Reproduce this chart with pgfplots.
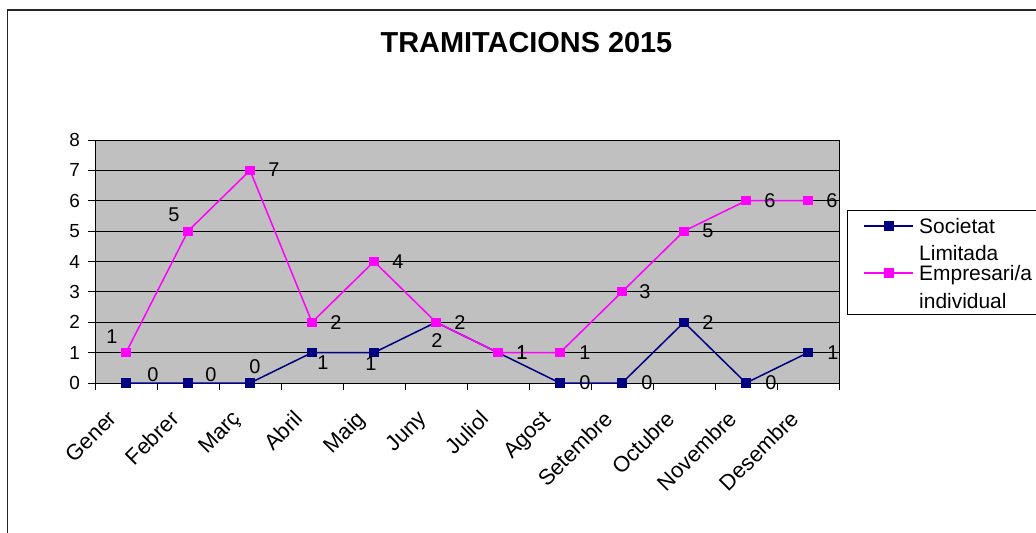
\documentclass[border=0pt]{standalone}
\usepackage{fontspec}
\setmainfont{Liberation Sans}
\usepackage{pgfplots}
\pgfplotsset{compat=1.18}
\usepackage{pgfplotstable}

\definecolor{navyline}{RGB}{0,0,128}
\definecolor{magline}{RGB}{255,0,255}
\definecolor{plotgray}{RGB}{192,192,192}

% x = category centre (0.5 ... 11.5), y = value, dx/dy = label offset in bp
\pgfplotstableread{
x    y  dx  dy
0.5  0  27  8
1.5  0  23  8
2.5  0  5   16.5
3.5  1  11  -10
4.5  1  -3  -11
5.5  2  1   -18
6.5  1  24  0
7.5  0  25  0
8.5  0  25  0
9.5  2  24  0
10.5 0  25  0
11.5 1  25  0
}\societat

\pgfplotstableread{
x    y  dx  dy
0.5  1  -14 16
1.5  5  -14 16.5
2.5  7  24  1
3.5  2  24  0
4.5  4  24  0
5.5  2  24  0
6.5  1  24  0
7.5  1  25  0
8.5  3  23  0
9.5  5  24  0
10.5 6  24  0
11.5 6  24  0
}\empresari

\begin{document}
\begin{tikzpicture}
\path[use as bounding box] (0bp,0bp) rectangle (1036bp,533bp);
\clip (0bp,0bp) rectangle (1036bp,533bp);
\draw[line width=1.5bp, black!85] (7.5bp,-20bp) rectangle (1060bp,523bp);
\begin{axis}[
  at={(95bp,150bp)}, anchor=south west,
  scale only axis, width=744bp, height=243bp,
  clip=false,
  xmin=0, xmax=12, ymin=0, ymax=8,
  axis background/.style={fill=plotgray},
  axis line style={black, line width=0.9bp},
  /pgf/number format/assume math mode=true,
  tick align=outside,
  major tick length=7bp,
  tick style={black, line width=0.9bp},
  xtick={0,...,12}, xticklabels={},
  extra x ticks={0.5,1.5,...,11.5},
  extra x tick labels={Gener,Febrer,Març,Abril,Maig,Juny,Juliol,Agost,Setembre,Octubre,Novembre,Desembre},
  extra x tick style={major tick length=0pt,
    ticklabel style={xshift=-19bp, yshift=-26bp, rotate=45,
      anchor=north east, inner sep=0pt,
      font=\fontsize{22}{26}\selectfont}},
  xtick pos=bottom, ytick pos=left,
  ytick={0,...,8},
  ymajorgrids,
  grid style={black, line width=0.9bp},
  yticklabel style={inner sep=0pt, xshift=-8bp,
    font=\fontsize{19}{23}\selectfont},
  title={TRAMITACIONS 2015},
  title style={at={(0.58,1)}, anchor=base, yshift=82bp,
    font=\fontsize{29}{34}\selectfont\bfseries},
  nodes near coords,
  visualization depends on={\thisrow{dx} \as \ldx},
  visualization depends on={\thisrow{dy} \as \ldy},
  every node near coord/.append style={anchor=center, inner sep=0pt,
    xshift=\ldx bp, yshift=\ldy bp, text=black,
    font=\fontsize{20}{24}\selectfont},
  legend style={at={(1.0108,0.712)}, anchor=north west,
    draw=black, line width=0.8bp, fill=white,
    inner xsep=16bp, inner ysep=0bp,
    nodes={inner sep=0pt, text height=15bp, text depth=12bp},
    column sep=5bp, row sep=0pt,
    cells={anchor=base west},
    font=\fontsize{21}{27}\selectfont},
  legend image code/.code={
    \draw[mark repeat=2, mark phase=2, line width=1.8bp]
      plot coordinates {(0bp,7.5bp) (24.5bp,7.5bp) (49bp,7.5bp)};},
]
\addplot[navyline, line width=1.5bp, mark=square*, mark size=3.8bp,
  mark options={solid, fill=navyline}] table[x=x, y=y] {\societat};
\addlegendentry[text height=23bp, text depth=12bp]{Societat}
\addlegendimage{empty legend}
\addlegendentry[text height=15bp, text depth=5bp]{Limitada}
\addplot[magline, line width=1.5bp, mark=square*, mark size=3.8bp,
  mark options={solid, fill=magline}] table[x=x, y=y] {\empresari};
\addlegendentry[text height=15bp, text depth=13bp]{Empresari/a}
\addlegendimage{empty legend}
\addlegendentry[text height=15bp, text depth=6bp]{individual}
\end{axis}
\end{tikzpicture}
\end{document}
